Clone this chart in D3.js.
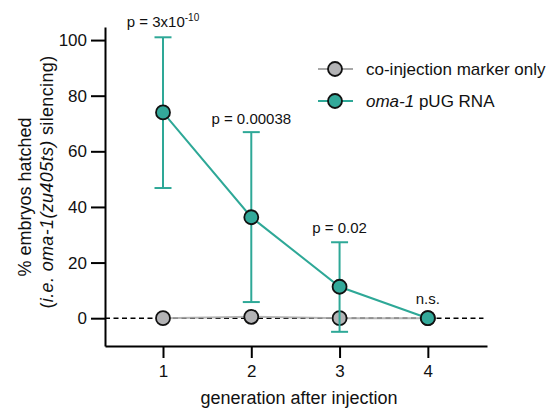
<!DOCTYPE html>
<html lang="en">
<head>
  <meta charset="UTF-8">
  <title>Embryo hatching after oma-1 pUG RNA injection</title>
  <script src="https://d3js.org/d3.v7.min.js"></script>
  <style>
    body { margin: 0; background: #fff; }
    svg { display: block; font-family: "Liberation Sans", Arial, sans-serif; }
  </style>
</head>
<body>
  <svg id="chart" width="552" height="414"></svg>
  <script>
    // Data
    const generations = [1, 2, 3, 4];
    const markerOnly = [0, 0.5, 0, 0];
    const pugMean = [74, 36.3, 11.3, 0];
    const pugLow = [46.8, 5.8, -4.9, 0];
    const pugHigh = [101, 66.9, 27.3, 0];
    const pLabels = ["p = 3x10", "p = 0.00038", "p = 0.02", "n.s."];
    const yTicks = [0, 20, 40, 60, 80, 100];

    const teal = "#2ea897", tealFill = "#33a99a";
    const grey = "#a8a8a8", greyFill = "#b3b3b5";

    const svg = d3.select("#chart");

    const x = d3.scaleLinear().domain([0.343, 4.67]).range([105, 487]);
    const y = d3.scaleLinear().domain([-10, 104.7]).range([346, 27]);

    // axes
    const yAxis = svg.append("g")
      .attr("transform", "translate(105,0)")
      .call(d3.axisLeft(y).tickValues(yTicks).tickSize(14).tickSizeOuter(0).tickPadding(4));
    const xAxis = svg.append("g")
      .attr("transform", "translate(0,346)")
      .call(d3.axisBottom(x).tickValues(generations).tickFormat(d3.format("d"))
        .tickSize(12).tickSizeOuter(0).tickPadding(7));
    [xAxis, yAxis].forEach(a => {
      a.selectAll("path, line").attr("stroke", "#000").attr("stroke-width", 2);
      a.selectAll("text").attr("font-size", 17).attr("fill", "#111")
        .style("font-family", "'Liberation Sans', Arial, sans-serif");
    });

    // axis titles
    svg.append("text")
      .attr("x", 299).attr("y", 404)
      .attr("text-anchor", "middle").attr("font-size", 18).attr("fill", "#111")
      .text("generation after injection");

    svg.append("text")
      .attr("transform", "translate(31,197) rotate(-90)")
      .attr("text-anchor", "middle").attr("font-size", 18).attr("fill", "#111")
      .text("% embryos hatched");
    const yl2 = svg.append("text")
      .attr("transform", "translate(53,182) rotate(-90)")
      .attr("text-anchor", "middle").attr("font-size", 18).attr("fill", "#111")
      .attr("letter-spacing", 0.35);
    yl2.append("tspan").text("(");
    yl2.append("tspan").attr("font-style", "italic").text("i.e. oma-1(zu405ts)");
    yl2.append("tspan").text(" silencing)");

    // zero reference line
    svg.append("line")
      .attr("x1", x.range()[0]).attr("x2", x(4.63))
      .attr("y1", y(0)).attr("y2", y(0))
      .attr("stroke", "#000").attr("stroke-width", 1.6)
      .attr("stroke-dasharray", "5,3.5");

    const lineGen = d3.line().x((d, i) => x(generations[i])).y(d => y(d));

    // co-injection marker only
    svg.append("path").datum(markerOnly)
      .attr("d", lineGen).attr("fill", "none")
      .attr("stroke", grey).attr("stroke-width", 2).attr("opacity", 0.85);
    svg.selectAll("circle.grey").data(markerOnly).join("circle")
      .attr("class", "grey")
      .attr("cx", (d, i) => x(generations[i])).attr("cy", d => y(d)).attr("r", 7)
      .attr("fill", greyFill).attr("stroke", "#111").attr("stroke-width", 1.8);

    // oma-1 pUG RNA: error bars
    const eb = svg.append("g").attr("stroke", teal).attr("stroke-width", 2);
    generations.forEach((g, i) => {
      if (pugHigh[i] === pugLow[i]) return;
      eb.append("line").attr("x1", x(g)).attr("x2", x(g))
        .attr("y1", y(pugLow[i])).attr("y2", y(pugHigh[i]));
      [pugLow[i], pugHigh[i]].forEach(v => {
        eb.append("line").attr("x1", x(g) - 8.5).attr("x2", x(g) + 8.5)
          .attr("y1", y(v)).attr("y2", y(v));
      });
    });
    svg.append("path").datum(pugMean)
      .attr("d", lineGen).attr("fill", "none")
      .attr("stroke", teal).attr("stroke-width", 2);
    svg.selectAll("circle.pug").data(pugMean).join("circle")
      .attr("class", "pug")
      .attr("cx", (d, i) => x(generations[i])).attr("cy", d => y(d)).attr("r", 7)
      .attr("fill", tealFill).attr("stroke", "#111").attr("stroke-width", 1.8);

    // p-value labels
    const pY = [27, 124, 233, 304];
    pLabels.forEach((t, i) => {
      const lab = svg.append("text")
        .attr("x", x(generations[i])).attr("y", pY[i])
        .attr("text-anchor", "middle").attr("font-size", 15).attr("fill", "#111");
      lab.append("tspan").text(t);
      if (i === 0) lab.append("tspan").attr("font-size", 10).attr("dy", -6).text("-10");
    });

    // legend
    const legend = [
      { label: "co-injection marker only", stroke: grey, fill: greyFill, y: 69 },
      { label: "pUG RNA", italic: "oma-1", stroke: teal, fill: tealFill, y: 101 }
    ];
    legend.forEach(l => {
      svg.append("line").attr("x1", 318).attr("x2", 353).attr("y1", l.y).attr("y2", l.y)
        .attr("stroke", l.stroke).attr("stroke-width", 2);
      svg.append("circle").attr("cx", 335).attr("cy", l.y).attr("r", 7)
        .attr("fill", l.fill).attr("stroke", "#111").attr("stroke-width", 1.8);
      const t = svg.append("text").attr("x", 366).attr("y", l.y + 6)
        .attr("font-size", 17).attr("fill", "#111");
      if (l.italic) {
        t.append("tspan").attr("font-style", "italic").text(l.italic);
        t.append("tspan").text(" " + l.label);
      } else {
        t.text(l.label);
      }
    });
  </script>
</body>
</html>
